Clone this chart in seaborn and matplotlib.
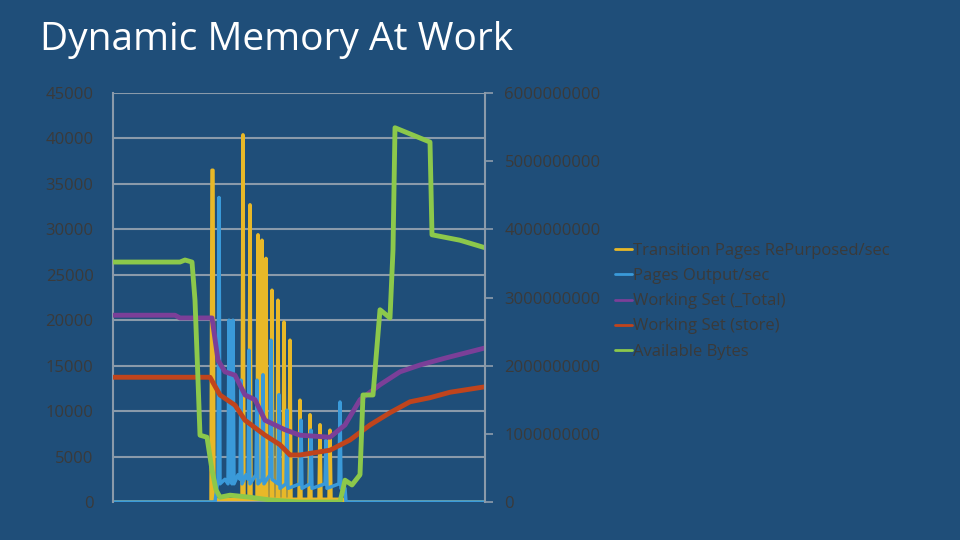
import matplotlib
matplotlib.use("Agg")
import matplotlib.pyplot as plt
import seaborn as sns
import pandas as pd

sns.set_theme(style="white")
plt.rcParams['font.family'] = ['Open Sans', 'DejaVu Sans']

# x positions in arbitrary time units
green_x = [0,67,72,79,82,85,87,94,99,103,107,117,137,157,187,227,232,239,247,250,260,267,277,280,282,292,317,319,347,372]
green_y = [3.52,3.52,3.55,3.52,2.96,1.79,0.98,0.95,0.47,0.18,0.07,0.10,0.07,0.03,0.0,0.0,0.32,0.25,0.40,1.57,1.57,2.82,2.70,3.70,5.49,5.43,5.28,3.92,3.84,3.73]
purple_x = [0,62,67,99,105,112,122,132,142,152,162,172,187,217,232,247,267,287,307,332,372]
purple_y = [2.74,2.74,2.70,2.70,2.08,1.91,1.86,1.57,1.50,1.20,1.13,1.06,0.98,0.95,1.13,1.50,1.72,1.91,2.01,2.11,2.26]
red_x = [0,97,107,122,132,142,152,167,177,187,217,237,257,277,297,317,337,372]
red_y = [1.83,1.83,1.57,1.42,1.20,1.09,0.98,0.84,0.69,0.69,0.76,0.91,1.13,1.31,1.47,1.53,1.61,1.69]
yellow_x = [0,98,99,100,101,129,130,131,136,137,138,144,145,146,148,149,150,152,153,154,158,159,160,164,165,166,170,171,172,176,177,178,186,187,188,196,197,198,206,207,208,216,217,218,230,231,372]
yellow_y = [0,0,36500,36500,300,300,40400,300,300,32700,300,300,29400,300,300,28800,300,300,26800,300,300,23300,300,300,22200,300,300,19800,300,300,17800,300,300,11200,300,300,9600,300,300,8500,300,300,7900,300,300,0,0]
blue_x = [0,92,102,105,106,107,112,115,116,117,119,120,121,125,127,128,129,133,135,136,137,143,144,145,149,150,151,157,158,159,165,166,167,173,174,175,187,188,189,197,198,199,212,213,214,226,227,228,232,233,234,372]
blue_y = [0,0,0,2500,33500,2000,2500,2000,20000,2500,2000,20000,2000,3000,2500,13400,2000,3000,2500,16700,2000,3000,13400,2000,2500,14000,2000,3000,17800,2500,2000,11800,1500,2000,10100,1500,2000,9000,1500,2000,7900,1500,2000,6800,1500,2000,11000,1500,1500,0,0,0]

bg = "#1F4E79"
txt = "#3A3A3A"
fig = plt.figure(figsize=(9.6, 5.4), dpi=100, facecolor=bg)
ax = fig.add_axes([113/960, 1-502/540, 372/960, 409/540])
ax.set_facecolor(bg)
ax2 = ax.twinx()

sns.lineplot(x=yellow_x, y=yellow_y, ax=ax, color="#E8B828", lw=2.5, label="Transition Pages RePurposed/sec", legend=False)
sns.lineplot(x=blue_x, y=blue_y, ax=ax, color="#3A9AD9", lw=2.5, label="Pages Output/sec", legend=False)
sns.lineplot(x=purple_x, y=[v*1e9 for v in purple_y], ax=ax2, color="#7B3F98", lw=3.5, label="Working Set (_Total)", legend=False)
sns.lineplot(x=red_x, y=[v*1e9 for v in red_y], ax=ax2, color="#C0441C", lw=3.5, label="Working Set (store)", legend=False)
sns.lineplot(x=green_x, y=[v*1e9 for v in green_y], ax=ax2, color="#8CC84B", lw=3.5, label="Available Bytes", legend=False)

ax.set_xlim(0, 372)
ax.set_ylim(0, 45000)
ax2.set_ylim(0, 6e9)
ax.set_yticks(range(0, 45001, 5000))
ax2.set_yticks(range(0, 6000000001, 1000000000))
ax2.set_yticklabels([str(v) for v in range(0, 6000000001, 1000000000)])
ax.set_xticks([])
ax.grid(axis="y", color="#8A9AAA", lw=1.5)
for a in (ax, ax2):
    for s in a.spines.values():
        s.set_visible(False)
ax.spines["left"].set_visible(True); ax.spines["left"].set_color("#8A9AAA"); ax.spines["left"].set_linewidth(1.5)
ax2.spines["right"].set_visible(True); ax2.spines["right"].set_color("#8A9AAA"); ax2.spines["right"].set_linewidth(1.5)
ax.tick_params(axis="y", colors=txt, labelsize=12, length=0, pad=14)
ax2.tick_params(axis="y", colors=txt, labelsize=12, length=6, color="#8A9AAA", pad=8)
for lab in ax.get_yticklabels() + ax2.get_yticklabels():
    lab.set_color(txt)

h1, l1 = ax.get_legend_handles_labels()
h2, l2 = ax2.get_legend_handles_labels()
leg = fig.legend(h1 + h2, l1 + l2, loc="upper left", bbox_to_anchor=(600/960, 1-228/540),
                 frameon=False, fontsize=12, handlelength=1.0, handletextpad=0.1, labelspacing=0.55)
for t in leg.get_texts():
    t.set_color(txt)
for l in leg.get_lines():
    l.set_linewidth(2)

fig.text(40/960, 1-40/540, "Dynamic Memory At Work", color="white", fontsize=28, va="center", ha="left")
fig.savefig("out.png", dpi=100, facecolor=bg)
